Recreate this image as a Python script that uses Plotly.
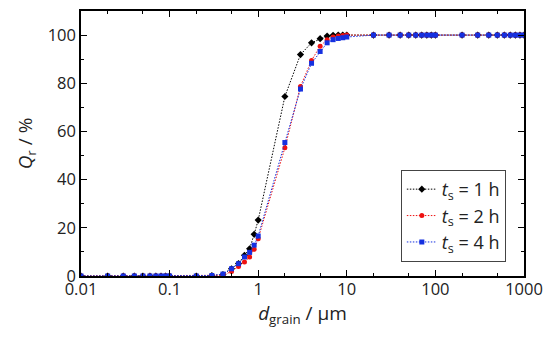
import plotly.graph_objects as go

d_grain = [0.01, 0.02, 0.03, 0.04, 0.05, 0.06, 0.07, 0.08, 0.09,
           0.1, 0.2, 0.3, 0.4, 0.5, 0.6, 0.7, 0.8, 0.9,
           1, 2, 3, 4, 5, 6, 7, 8, 9,
           10, 20, 30, 40, 50, 60, 70, 80, 90,
           100, 200, 300, 400, 500, 600, 700, 800, 900, 1000]

q_1h = [0, 0, 0, 0, 0, 0, 0, 0, 0,
        0, 0, 0.2, 0.6, 3.0, 5.2, 8.6, 11.3, 17.3,
        23.2, 74.5, 91.9, 96.8, 98.5, 99.6, 99.9, 100, 100,
        100, 100, 100, 100, 100, 100, 100, 100, 100,
        100, 100, 100, 100, 100, 100, 100, 100, 100, 100]

q_2h = [0, 0, 0, 0, 0, 0, 0, 0, 0,
        0, 0, 0.1, 0.3, 1.9, 3.9, 5.8, 7.9, 11.1,
        15.5, 53.2, 78.7, 89.5, 95.4, 98.1, 99.2, 99.6, 99.8,
        100, 100, 100, 100, 100, 100, 100, 100, 100,
        100, 100, 100, 100, 100, 100, 100, 100, 100, 100]

q_4h = [0, 0, 0, 0, 0, 0, 0, 0, 0,
        0, 0, 0.2, 0.8, 3.0, 5.1, 7.9, 9.8, 12.8,
        16.6, 55.4, 77.6, 88.3, 93.2, 96.8, 98.1, 98.6, 98.9,
        99.2, 100, 100, 100, 100, 100, 100, 100, 100,
        100, 100, 100, 100, 100, 100, 100, 100, 100, 100]

x_ticks = [0.01, 0.1, 1, 10, 100, 1000]
x_ticklabels = ["0.01", "0.1", "1", "10", "100", "1000"]
y_ticks = [0, 20, 40, 60, 80, 100]

series = [
    ("<i>t</i><sub>s</sub> = 1 h", q_1h, "black", "diamond", 5.5),
    ("<i>t</i><sub>s</sub> = 2 h", q_2h, "#ee1111", "circle", 5),
    ("<i>t</i><sub>s</sub> = 4 h", q_4h, "#1530e0", "square", 5),
]

font_family = "Open Sans, Noto Sans, DejaVu Sans, sans-serif"
txt = "#222"

fig = go.Figure()
for name, ys, color, symbol, size in series:
    fig.add_trace(go.Scatter(
        x=d_grain, y=ys, name=name, mode="lines+markers",
        line=dict(color=color, width=1, dash="1.5px,1.5px"),
        marker=dict(color=color, symbol=symbol, size=size, line=dict(width=0)),
    ))

axis_common = dict(
    showline=True, linecolor="black", linewidth=1.5, mirror="ticks",
    ticks="inside", tickcolor="black", tickwidth=1.2, ticklen=6,
    showgrid=False, zeroline=False, automargin=False,
    tickfont=dict(family=font_family, size=16.5, color=txt),
)

fig.update_xaxes(
    type="log", range=[-2, 3], tickvals=x_ticks, ticktext=x_ticklabels,
    ticklabelstandoff=-3,
    minor=dict(ticks="inside", ticklen=3.5, tickwidth=1, tickcolor="black", showgrid=False),
    title=dict(text="<i>d</i><sub>grain</sub> / µm", font=dict(family=font_family, size=19, color=txt), standoff=6),
    **axis_common,
)
fig.update_yaxes(
    range=[0, 110], tickvals=y_ticks,
    minor=dict(ticks="inside", ticklen=3.5, tickwidth=1, tickcolor="black", dtick=10, tick0=0, showgrid=False),
    title=dict(text="<i>Q</i><sub>r</sub> / %", font=dict(family=font_family, size=19, color=txt), standoff=10),
    **axis_common,
)

fig.update_layout(
    width=550, height=341,
    margin=dict(l=81, r=26, t=11, b=65),
    paper_bgcolor="white", plot_bgcolor="white",
    legend=dict(
        x=0.959, y=0.053, xanchor="right", yanchor="bottom",
        bordercolor="#444", borderwidth=1, bgcolor="white",
        font=dict(family=font_family, size=18, color=txt),
        tracegroupgap=0, itemwidth=30,
    ),
    font=dict(family=font_family),
)

fig.write_html("out.html", config={"displayModeBar": False},
               post_script="document.body.style.margin='0px';")
